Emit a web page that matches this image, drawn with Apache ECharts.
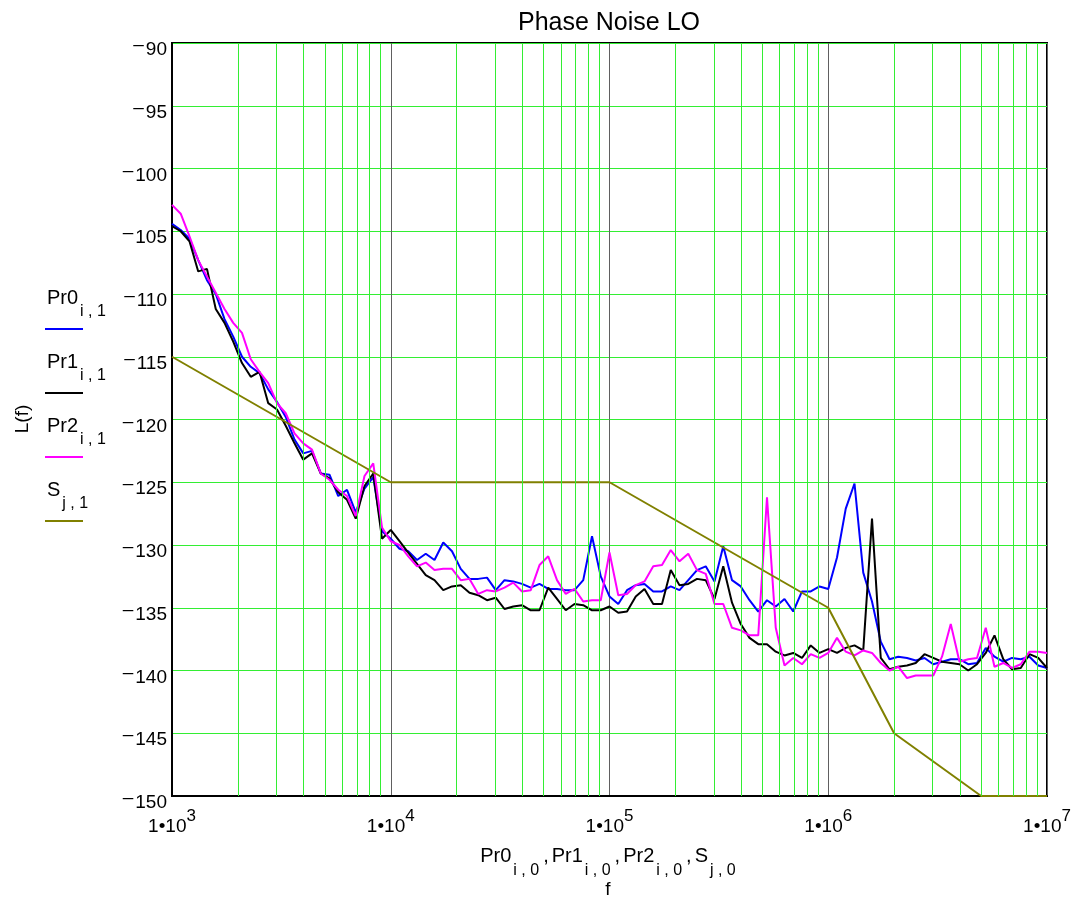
<!DOCTYPE html>
<html><head><meta charset="utf-8">
<script src="https://cdn.jsdelivr.net/npm/echarts@6/dist/echarts.min.js"></script>
<style>html,body{margin:0;padding:0;background:#fff}#c{width:1077px;height:897px}</style>
</head><body><div id="c"></div>
<script>
// Offset frequencies (Hz), shared by the three measured traces
const freq = [1000,1096,1202,1318,1445,1585,1738,1905,2089,2291,2512,2754,3020,3311,3631,3981,4365,4786,5248,5754,6310,6918,7586,8318,9120,
10000,10965,12023,13183,14454,15849,17378,19055,20893,22909,25119,27542,30200,33113,36308,39811,43652,47863,52481,57544,63096,69183,75858,83176,91201,
100000,109648,120226,131826,144544,158489,173780,190546,208930,229087,251189,275423,301995,331131,363078,398107,436516,478630,524807,575440,630957,691831,758578,831764,912011,
1000000,1096478,1202264,1318257,1445440,1584893,1737801,1905461,2089296,2290868,2511886,2754229,3019952,3311311,3630781,3981072,4365158,4786301,5248075,5754399,6309573,6918310,7585776,8317638,9120108,
10000000];

// Pr0 (blue)
const pr0 = [-104.4,-104.9,-105.6,-107.3,-108.9,-110.0,-112.0,-113.4,-115.0,-115.8,-116.3,-117.6,-118.6,-119.8,-121.6,-122.7,-122.5,-124.3,-124.4,-126.1,-125.6,-127.4,-125.5,-124.6,-128.9,
-129.5,-130.3,-130.5,-131.2,-130.7,-131.2,-129.8,-130.5,-131.9,-132.7,-132.7,-132.6,-133.6,-132.8,-132.9,-133.1,-133.4,-133.1,-133.5,-133.5,-133.6,-133.6,-132.8,-129.3,-132.5,
-134.1,-134.7,-133.6,-133.2,-133.1,-133.7,-133.7,-133.3,-133.6,-132.8,-132.0,-131.7,-132.9,-130.1,-132.8,-133.3,-134.4,-135.3,-134.4,-134.9,-134.3,-135.3,-133.7,-133.7,-133.3,
-133.5,-131.0,-127.1,-125.1,-132.2,-134.5,-137.7,-139.1,-138.9,-139.0,-139.2,-139.0,-139.5,-139.3,-139.1,-139.1,-139.5,-139.4,-138.2,-138.9,-139.3,-139.0,-139.1,-138.9,-139.6,
-139.8];

// Pr1 (black)
const pr1 = [-104.6,-105.0,-105.8,-108.2,-108.0,-111.2,-112.3,-113.8,-115.5,-116.6,-116.2,-118.7,-119.2,-120.5,-121.9,-123.2,-122.7,-124.3,-124.7,-125.8,-126.4,-127.9,-125.3,-124.3,-129.5,
-128.8,-129.7,-130.6,-131.5,-132.4,-132.8,-133.6,-133.3,-133.2,-133.8,-134.0,-134.4,-134.2,-135.1,-134.9,-134.8,-135.2,-135.2,-133.4,-134.3,-135.2,-134.7,-134.8,-135.2,-135.2,
-134.9,-135.4,-135.3,-134.1,-133.5,-134.7,-134.7,-132.0,-133.2,-133.1,-132.7,-132.8,-134.3,-131.7,-134.6,-136.3,-137.4,-137.9,-137.9,-138.5,-138.8,-138.6,-139.0,-138.0,-138.6,
-138.3,-138.6,-138.2,-138.0,-138.4,-127.9,-139.0,-139.9,-139.7,-139.6,-139.4,-138.7,-139.0,-139.3,-139.4,-139.5,-140.0,-139.5,-138.6,-137.2,-139.1,-139.9,-139.8,-138.7,-139.0,
-139.8];

// Pr2 (magenta)
const pr2 = [-102.9,-103.6,-105.4,-107.3,-108.6,-109.9,-111.2,-112.3,-113.1,-115.2,-116.2,-117.1,-118.7,-119.5,-121.1,-121.9,-122.4,-124.3,-124.8,-125.6,-126.1,-127.7,-124.5,-123.5,-128.6,
-129.7,-130.0,-130.9,-131.7,-131.4,-132.0,-131.9,-131.9,-132.8,-132.7,-133.9,-133.6,-133.7,-133.4,-133.0,-133.7,-133.6,-131.6,-130.9,-132.8,-133.9,-133.5,-134.5,-134.4,-134.4,
-130.6,-134.0,-133.9,-133.2,-132.9,-131.7,-131.6,-130.4,-131.3,-130.7,-132.0,-132.3,-134.7,-134.7,-136.6,-136.8,-137.2,-137.2,-126.2,-136.6,-139.6,-139.0,-139.5,-138.7,-139.0,
-138.6,-137.4,-138.5,-138.8,-138.4,-138.6,-139.4,-140.0,-139.7,-140.6,-140.4,-140.4,-140.4,-138.9,-136.3,-139.3,-139.1,-139.0,-136.6,-139.7,-139.4,-139.8,-139.5,-138.5,-138.5,
-138.6];

// S (spec mask, olive)
const sFreq = [1000,10000,100000,1000000,2000000,5000000,10000000];
const sLevel = [-115,-125,-125,-135,-145,-150,-150];

// Grid helpers
const decades = [1e3,1e4,1e5,1e6];
const minorMultipliers = [2,3,4,5,6,7,8,9];

const FONT = "'Liberation Sans', Arial, Helvetica, sans-serif";
const COL = {pr0:'#0000ff', pr1:'#000000', pr2:'#ff00ff', s:'#808000', grid:'#33ee33', decade:'#606060'};

const pair = (xs, ys) => xs.map((x, i) => [x, ys[i]]);
const gridFreqs = [];
decades.forEach(d => minorMultipliers.forEach(m => gridFreqs.push({xAxis: d * m})));

function lineSeries(name, data, color) {
  return {name, type:'line', data, showSymbol:false, symbol:'none', z:3,
    lineStyle:{color, width:2}, itemStyle:{color}, emphasis:{disabled:true}, silent:true};
}

const legendItems = [
  {main:'Pr0', sub:'i , 1', color:COL.pr0},
  {main:'Pr1', sub:'i , 1', color:COL.pr1},
  {main:'Pr2', sub:'i , 1', color:COL.pr2},
  {main:'S',   sub:'j , 1', color:COL.s}
];

const richMain = {fontSize:20, fontFamily:FONT, fill:'#000', verticalAlign:'middle'};
const richComma = {fontSize:20, fontFamily:FONT, fill:'#000', verticalAlign:'middle', padding:[0,3,0,4]};
const graphics = [];
graphics.push({type:'text', x:609, y:23, style:{text:'Phase Noise LO', fontSize:25, fontFamily:FONT, fill:'#000', align:'center', verticalAlign:'middle'}});
graphics.push({type:'text', x:23, y:419, rotation:Math.PI/2, style:{text:'L(f)', fontSize:19, fontFamily:FONT, fill:'#000', align:'center', verticalAlign:'middle'}});
legendItems.forEach((it, i) => {
  graphics.push({type:'text', x:47, y:298 + 64*i, style:{
    text:'{a|' + it.main + '}{s|' + it.sub + '}', align:'left', verticalAlign:'middle',
    rich:{a:richMain, s:{fontSize:16, fontFamily:FONT, fill:'#000', verticalAlign:'middle', padding:[28,0,0,2]}}}});
  graphics.push({type:'line', shape:{x1:45, y1:329 + 64*i, x2:83, y2:329 + 64*i}, style:{stroke:it.color, lineWidth:2}});
});
graphics.push({type:'text', x:608, y:856, style:{
  text:'{a|Pr0}{s|i , 0}{c|,}{a|Pr1}{s|i , 0}{c|,}{a|Pr2}{s|i , 0}{c|,}{a|S}{s|j , 0}', align:'center', verticalAlign:'middle',
  rich:{a:richMain, c:richComma, s:{fontSize:16, fontFamily:FONT, fill:'#000', verticalAlign:'middle', padding:[30,0,0,2]}}}});
graphics.push({type:'text', x:608, y:890, style:{text:'f', fontSize:19, fontFamily:FONT, fill:'#000', align:'center', verticalAlign:'middle'}});

const chart = echarts.init(document.getElementById('c'), null, {renderer:'canvas'});
chart.setOption({
  animation:false,
  backgroundColor:'#ffffff',
  grid:{left:172, top:43, right:30, bottom:101, show:true, borderColor:'#000', borderWidth:2, backgroundColor:'transparent'},
  xAxis:{type:'log', logBase:10, min:1e3, max:1e7, splitNumber:4,
    axisLine:{show:true, onZero:false, lineStyle:{color:'#000', width:2}},
    axisTick:{show:false},
    splitLine:{show:true, lineStyle:{color:COL.decade, width:1}},
    axisLabel:{margin:12, showMinLabel:true, showMaxLabel:true, fontSize:19, fontFamily:FONT, color:'#000',
      formatter: v => '{b|1\u202210}{e|' + Math.round(Math.log10(v)) + '}',
      rich:{b:{fontSize:19, fontFamily:FONT, color:'#000', verticalAlign:'middle'},
            e:{fontSize:17, fontFamily:FONT, color:'#000', verticalAlign:'middle', padding:[0,0,20,0]}}}
  },
  yAxis:{type:'value', min:-150, max:-90, interval:5,
    axisLine:{show:true, onZero:false, lineStyle:{color:'#000', width:2}},
    axisTick:{show:false},
    splitLine:{show:true, lineStyle:{color:COL.grid, width:1}},
    axisLabel:{margin:5, fontSize:19, fontFamily:FONT, color:'#000',
      formatter: v => '{m|\u2013}{n|' + Math.abs(v) + '}',
      rich:{m:{fontSize:19, fontFamily:FONT, color:'#000', verticalAlign:'middle', padding:[4,2,0,0]},
            n:{fontSize:19, fontFamily:FONT, color:'#000', verticalAlign:'middle', padding:[14,0,0,0]}}}
  },
  series:[
    {type:'line', data:[[1000,-150]], z:1, showSymbol:false, symbol:'none', silent:true, lineStyle:{opacity:0},
      markLine:{silent:true, symbol:['none','none'], label:{show:false}, animation:false,
        lineStyle:{color:COL.grid, width:1, type:'solid'}, emphasis:{disabled:true}, data:gridFreqs}},
    lineSeries('Pr0', pair(freq, pr0), COL.pr0),
    lineSeries('Pr1', pair(freq, pr1), COL.pr1),
    lineSeries('Pr2', pair(freq, pr2), COL.pr2),
    lineSeries('S', pair(sFreq, sLevel), COL.s)
  ],
  graphic: graphics
});
</script>
</body></html>
